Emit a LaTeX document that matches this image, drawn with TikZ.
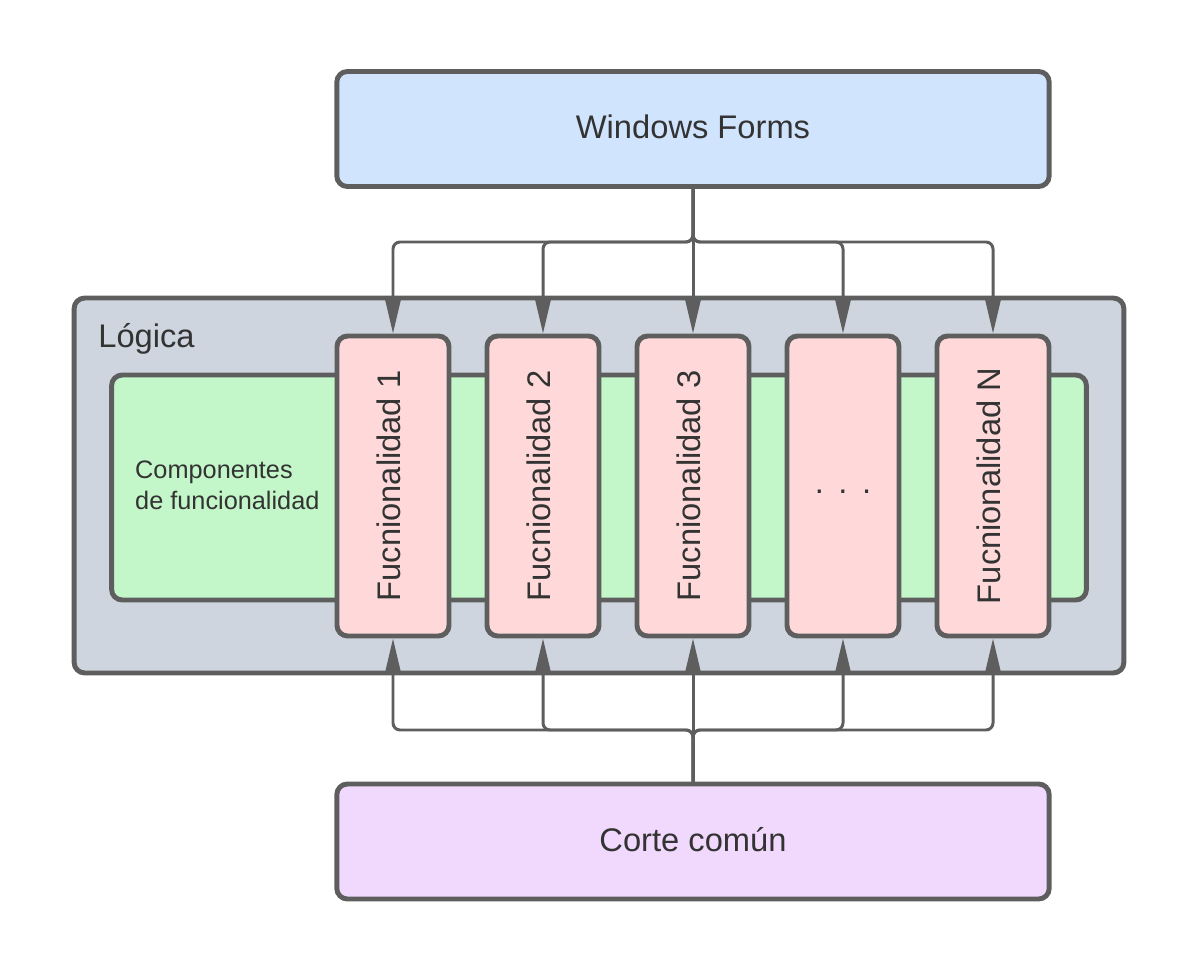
\documentclass[tikz,border=0pt]{standalone}
\usepackage{fontspec}
\setmainfont{Liberation Sans}
\usetikzlibrary{positioning,arrows.meta}
\definecolor{edge}{HTML}{5E5E5E}
\definecolor{ink}{HTML}{333333}
\definecolor{formsfill}{HTML}{D1E4FD}
\definecolor{logicafill}{HTML}{CED5DE}
\definecolor{compfill}{HTML}{C3F7C9}
\definecolor{funcfill}{HTML}{FFD9DA}
\definecolor{cortefill}{HTML}{F1D8FD}

\begin{document}
\begin{tikzpicture}[x=0.02cm, y=-0.02cm,
    txt/.style={text=ink, font=\fontsize{18.6}{22}\selectfont, text depth=0.25em},
    vtxt/.style={txt, rotate=90, text depth=0.55em},
    box/.style={txt, draw=edge, line width=2.8pt, rounded corners=6pt},
    wide/.style={box, minimum width=14.25cm, minimum height=2.3cm},
    func/.style={box, fill=funcfill, minimum width=2.24cm, minimum height=6cm},
    conn/.style={draw=edge, line width=1.7pt, rounded corners=4pt, -{Triangle[length=0.72cm,width=0.32cm]}}]
    \useasboundingbox (0,0) rectangle (1200,973);

    % capas
    \node[wide, fill=formsfill] (forms) at (693,129) {Windows Forms};
    \node[box, fill=logicafill, minimum width=21cm, minimum height=7.5cm] (logica) at (599,485.5) {};
    \node[txt, anchor=base west, inner sep=0pt] (logicaname) at (98,347) {Lógica};
    \node[box, fill=compfill, minimum width=19.5cm, minimum height=4.5cm] (comp) at (599,487.5) {};
    \node[anchor=west, align=left, text=ink, font=\fontsize{14.4}{17.5}\selectfont] (compname) at (129,485) {Componentes\\de funcionalidad};
    \node[wide, fill=cortefill] (corte) at (693,841.5) {Corte común};

    % funcionalidades
    \foreach \i/\x in {1/393, 2/543, 3/693, 4/843, 5/993}
        \node[func] (f\i) at (\x,486) {};
    \node[vtxt] (t1) at (f1) {Fucnionalidad 1};
    \node[vtxt] (t2) at (f2) {Fucnionalidad 2};
    \node[vtxt] (t3) at (f3) {Fucnionalidad 3};
    \node[text=ink, font=\fontsize{18.6}{22}\selectfont] (t4) at (843,492) {.\ \,.\ \,.};
    \node[vtxt] (t5) at (f5) {Fucnionalidad N};

    % conexiones
    \coordinate (split) at (693,242);
    \coordinate (join) at (693,730);
    \foreach \i in {1,2,4,5}
        \draw[conn] (forms.south) -- (split) -| (f\i.north);
    \draw[conn] (forms.south) -- (f3.north);
    \foreach \i in {1,2,4,5}
        \draw[conn] (corte.north) -- (join) -| (f\i.south);
    \draw[conn] (corte.north) -- (f3.south);
\end{tikzpicture}
\end{document}
